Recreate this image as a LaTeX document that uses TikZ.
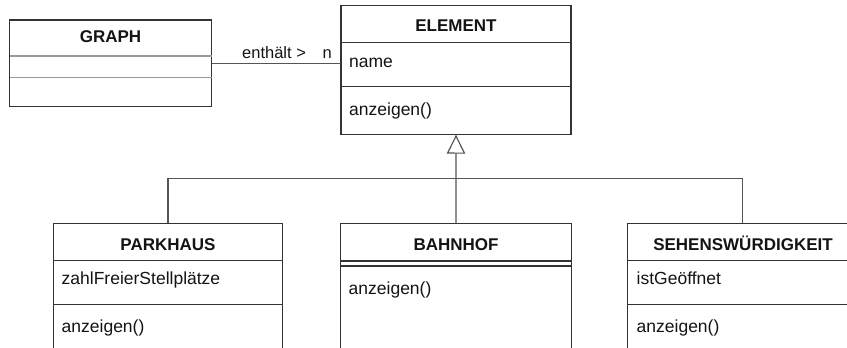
\documentclass[tikz,border=0pt]{standalone}
\usepackage{fontspec}
\setmainfont{Liberation Sans}
\usetikzlibrary{arrows.meta}
\definecolor{edge}{HTML}{333333}
\definecolor{wire}{HTML}{555555}
\definecolor{ink}{HTML}{141414}
\tikzset{
  classbox/.style={draw=edge, line width=1.2pt, rectangle, inner sep=0pt, outer sep=0pt, anchor=north west},
  divider/.style={draw=edge, line width=1.1pt},
  softdivider/.style={draw=gray!80, line width=1.1pt},
  ctitle/.style={font=\fontsize{17pt}{20pt}\selectfont\bfseries, text=ink, anchor=base, inner sep=0pt},
  member/.style={font=\fontsize{17.5pt}{20pt}\selectfont, text=ink, anchor=base west, inner sep=0pt},
  assoclabel/.style={font=\fontsize{16.5pt}{20pt}\selectfont, text=ink, anchor=base west, inner sep=0pt},
  link/.style={draw=wire, line width=1.2pt},
  inherit/.style={link, -{Triangle[open, length=19pt, width=18.5pt, line width=1.2pt]}}
}
\begin{document}
\begin{tikzpicture}[x=1pt, y=-1pt]
  \useasboundingbox (0,0) rectangle (847,348);
  \clip (0,0) rectangle (847,348);
  \fill[white] (0,0) rectangle (847,348);

  % class boxes
  \node[classbox, minimum width=202pt, minimum height=86.7pt] (graph) at (9.5,20) {};
  \node[classbox, minimum width=230pt, minimum height=129pt] (element) at (341,5.7) {};
  \node[classbox, minimum width=229.5pt, minimum height=160pt] (parkhaus) at (53.3,223.3) {};
  \node[classbox, minimum width=230.5pt, minimum height=160pt] (bahnhof) at (340.7,223.3) {};
  \node[classbox, minimum width=230pt, minimum height=160pt] (sehens) at (627.3,223.3) {};

  % compartments
  \draw[softdivider] (graph.west |- 0,56) -- (graph.east |- 0,56);
  \draw[softdivider] (graph.west |- 0,77.7) -- (graph.east |- 0,77.7);
  \draw[divider] (element.west |- 0,42.7) -- (element.east |- 0,42.7);
  \draw[divider] (element.west |- 0,86.5) -- (element.east |- 0,86.5);
  \draw[divider] (parkhaus.west |- 0,260.8) -- (parkhaus.east |- 0,260.8);
  \draw[divider] (parkhaus.west |- 0,304.2) -- (parkhaus.east |- 0,304.2);
  \draw[divider] (bahnhof.west |- 0,261) -- (bahnhof.east |- 0,261);
  \draw[divider] (bahnhof.west |- 0,266) -- (bahnhof.east |- 0,266);
  \draw[divider] (sehens.west |- 0,260.8) -- (sehens.east |- 0,260.8);
  \draw[divider] (sehens.west |- 0,304.2) -- (sehens.east |- 0,304.2);

  % titles
  \node[ctitle] (graphT) at (110.5,42.5) {GRAPH};
  \node[ctitle] (elementT) at (456,31.5) {ELEMENT};
  \node[ctitle] (parkhausT) at (168,250) {PARKHAUS};
  \node[ctitle] (bahnhofT) at (456,250) {BAHNHOF};
  \node[ctitle] (sehensT) at (743,250) {SEHENSWÜRDIGKEIT};

  % members
  \node[member] (elName) at (349,67.5) {name};
  \node[member] (elShow) at (349,115) {anzeigen()};
  \node[member] (phFree) at (61.5,284) {zahlFreierStellplätze};
  \node[member] (phShow) at (61.5,332) {anzeigen()};
  \node[member] (bhShow) at (348.5,294.5) {anzeigen()};
  \node[member] (swOpen) at (636.5,284) {istGeöffnet};
  \node[member] (swShow) at (636.5,332) {anzeigen()};

  % association GRAPH -- ELEMENT
  \draw[link] (graph.east |- 0,63.3) -- (element.west |- 0,63.3);
  \node[assoclabel] (assocName) at (242,58) {enthält >};
  \node[assoclabel] (assocMult) at (322.5,58) {n};

  % generalization
  \coordinate (bus) at (456,178.7);
  \draw[link] (parkhaus.north) |- (bus) -| (sehens.north);
  \draw[inherit] (bahnhof.north) -- (element.south);
\end{tikzpicture}
\end{document}
